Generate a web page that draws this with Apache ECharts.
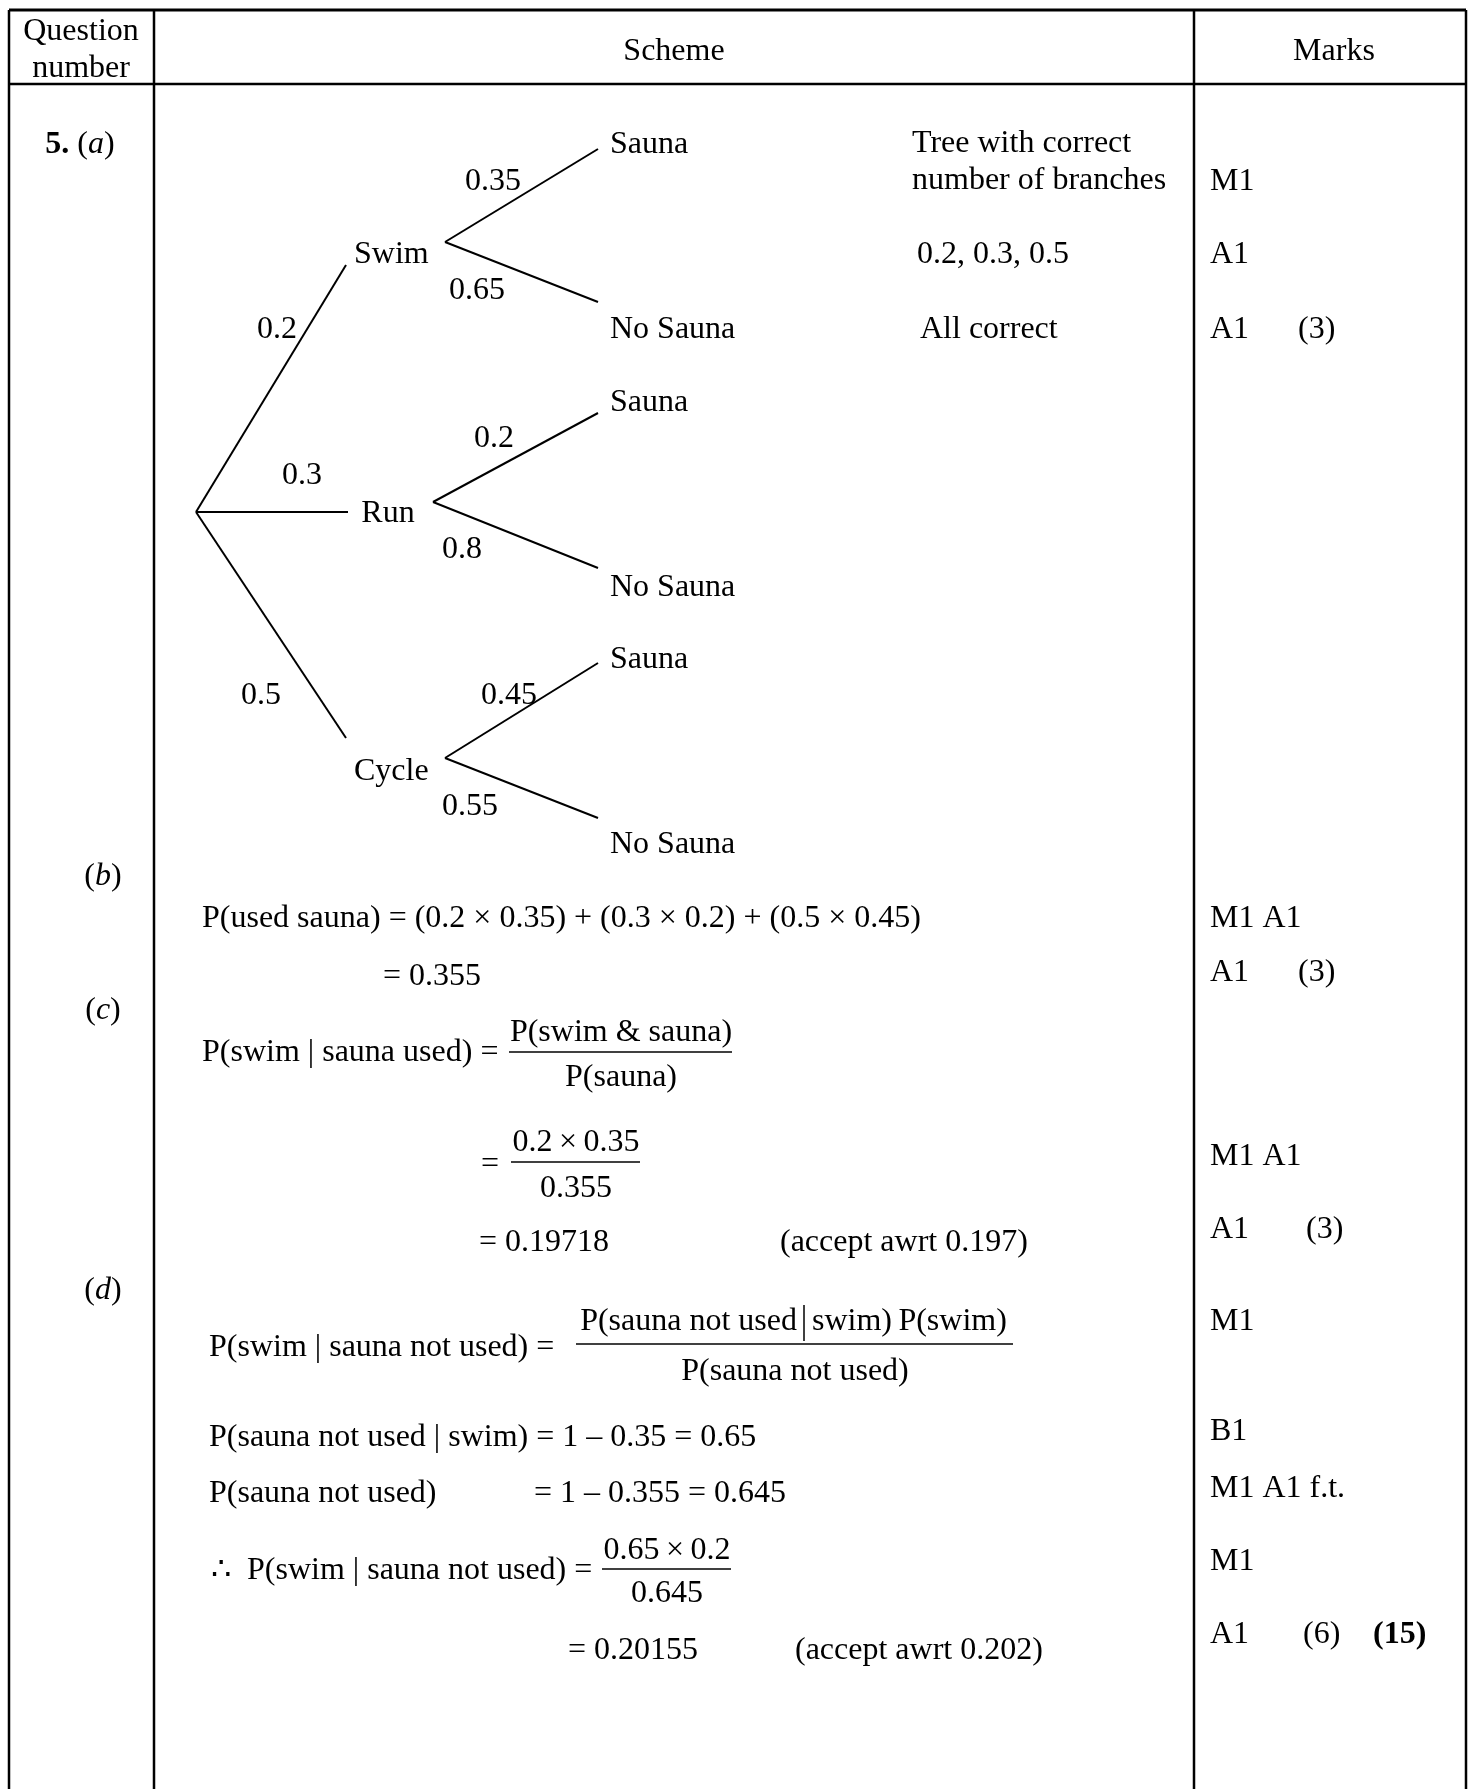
<!DOCTYPE html>
<html>
<head>
<meta charset="utf-8">
<script src="https://cdn.jsdelivr.net/npm/echarts@6/dist/echarts.min.js"></script>
<style>
html,body{margin:0;padding:0;background:#fff;}
#chart{width:1469px;height:1789px;}
</style>
</head>
<body>
<div id="chart"></div>
<script>
// ---------------- DATA ----------------
const headers = ['Question\nnumber', 'Scheme', 'Marks'];
const questionLabels = ['{b|5.} ({i|a})', '({i|b})', '({i|c})', '({i|d})'];
const activities = ['Swim', 'Run', 'Cycle'];
const activityProbs = ['0.2', '0.3', '0.5'];
const saunaProbs = [['0.35', '0.65'], ['0.2', '0.8'], ['0.45', '0.55']];
const outcomes = ['Sauna', 'No Sauna'];
const treeNotes = ['Tree with correct\nnumber of branches', '0.2, 0.3, 0.5', 'All correct'];
const treeMarks = ['M1', 'A1', 'A1', '(3)'];
const workingB = ['P(used sauna) = (0.2 × 0.35) + (0.3 × 0.2) + (0.5 × 0.45)', '= 0.355'];
const marksB = ['M1 A1', 'A1', '(3)'];
const workingC = ['P(swim | sauna used) =', 'P(swim & sauna)', 'P(sauna)', '=', '0.2\u2009×\u20090.35', '0.355', '= 0.19718', '(accept awrt 0.197)'];
const marksC = ['M1 A1', 'A1', '(3)'];
const workingD = ['P(swim | sauna not used) =', 'P(sauna not used', 'swim)\u2009P(swim)', 'P(sauna not used)',
  'P(sauna not used | swim) = 1 – 0.35 = 0.65', 'P(sauna not used)', '= 1 – 0.355 = 0.645',
  '∴  P(swim | sauna not used) =', '0.65\u2009×\u20090.2', '0.645', '= 0.20155', '(accept awrt 0.202)'];
const marksD = ['M1', 'B1', 'M1 A1 f.t.', 'M1', 'A1', '(6)', '{b|(15)}'];

// ---------------- LAYOUT ----------------
const W = 1469, H = 1789;
const FONT = 'Liberation Serif, Times New Roman, serif';
const TEXT_DY = 3.5;
const segs = [];   // [x1,y1,x2,y2,width]
const texts = [];  // {t,x,y,a}
function seg(x1, y1, x2, y2, w) { segs.push([x1, y1, x2, y2, w]); }
function txt(t, x, y, a) { texts.push({ t: t, x: x, y: y + TEXT_DY, a: a || 'left' }); }

// table frame
const colL = 9, col1 = 154, col2 = 1194, colR = 1466, topY = 10, headY = 84;
seg(colL, topY, colR, topY, 3);
seg(colL, headY, colR, headY, 2.5);
[colL, col1, col2, colR].forEach(x => seg(x, topY, x, H, 2.5));

// header
txt(headers[0], 81, 47, 'center');
txt(headers[1], 674, 48, 'center');
txt(headers[2], 1334, 48, 'center');

// question column
txt(questionLabels[0], 80, 141, 'center');
txt(questionLabels[1], 103, 873, 'center');
txt(questionLabels[2], 103, 1007, 'center');
txt(questionLabels[3], 103, 1287, 'center');

// tree diagram
const root = [196, 512];
const l1End = [[346, 265], [348, 512], [346, 738]];
const l1Text = [[354, 251, 'left'], [388, 510, 'center'], [354, 768, 'left']];
const joins = [[445, 242], [433, 502], [445, 758]];
const leafEnds = [[[598, 149], [598, 302]], [[598, 413], [598, 568]], [[598, 663], [598, 818]]];
const leafTextY = [[141, 326], [399, 584], [656, 841]];
const l1ProbPos = [[277, 326], [302, 472], [261, 692]];
const l2ProbPos = [[[493, 178], [477, 287]], [[494, 435], [462, 546]], [[509, 692], [470, 803]]];
activities.forEach((name, i) => {
  seg(root[0], root[1], l1End[i][0], l1End[i][1], 2);
  txt(name, l1Text[i][0], l1Text[i][1], l1Text[i][2]);
  txt(activityProbs[i], l1ProbPos[i][0], l1ProbPos[i][1], 'center');
  outcomes.forEach((o, j) => {
    seg(joins[i][0], joins[i][1], leafEnds[i][j][0], leafEnds[i][j][1], 2);
    txt(o, 610, leafTextY[i][j], 'left');
    txt(saunaProbs[i][j], l2ProbPos[i][j][0], l2ProbPos[i][j][1], 'center');
  });
});
txt(treeNotes[0], 912, 159, 'left');
txt(treeNotes[1], 917, 251, 'left');
txt(treeNotes[2], 920, 326, 'left');
const MX = 1210;
txt(treeMarks[0], MX, 178);
txt(treeMarks[1], MX, 251);
txt(treeMarks[2], MX, 326);
txt(treeMarks[3], 1298, 326);

// part (b)
txt(workingB[0], 202, 915);
txt(workingB[1], 383, 973);
txt(marksB[0], MX, 915);
txt(marksB[1], MX, 969);
txt(marksB[2], 1298, 969);

// part (c)
txt(workingC[0], 202, 1049);
txt(workingC[1], 621, 1029, 'center');
seg(509, 1052, 732, 1052, 1.5);
txt(workingC[2], 621, 1074, 'center');
txt(workingC[3], 490, 1161, 'center');
txt(workingC[4], 576, 1139, 'center');
seg(511, 1162, 640, 1162, 1.5);
txt(workingC[5], 576, 1185, 'center');
txt(workingC[6], 479, 1239);
txt(workingC[7], 780, 1239);
txt(marksC[0], MX, 1153);
txt(marksC[1], MX, 1226);
txt(marksC[2], 1306, 1226);

// part (d)
txt(workingD[0], 209, 1344);
txt(workingD[1], 797, 1318, 'right');
seg(804, 1305, 804, 1341, 1.5);
txt(workingD[2], 812, 1318, 'left');
seg(576, 1344, 1013, 1344, 1.5);
txt(workingD[3], 795, 1368, 'center');
txt(workingD[4], 209, 1434);
txt(workingD[5], 209, 1490);
txt(workingD[6], 534, 1490);
txt(workingD[7], 211, 1567);
txt(workingD[8], 667, 1547, 'center');
seg(602, 1569, 731, 1569, 1.5);
txt(workingD[9], 667, 1590, 'center');
txt(workingD[10], 568, 1647);
txt(workingD[11], 795, 1647);
txt(marksD[0], MX, 1318);
txt(marksD[1], MX, 1428);
txt(marksD[2], MX, 1485);
txt(marksD[3], MX, 1558);
txt(marksD[4], MX, 1631);
txt(marksD[5], 1303, 1631);
txt(marksD[6], 1373, 1631);

// ---------------- CHART ----------------
const rich = {
  b: { fontFamily: FONT, fontSize: 32, fontWeight: 'bold', fill: '#000' },
  i: { fontFamily: FONT, fontSize: 32, fontStyle: 'italic', fill: '#000' }
};
const chart = echarts.init(document.getElementById('chart'), null, { renderer: 'canvas' });
chart.setOption({
  animation: false,
  backgroundColor: '#fff',
  grid: { left: 0, right: 0, top: 0, bottom: 0 },
  xAxis: { type: 'value', min: 0, max: W, show: false },
  yAxis: { type: 'value', min: 0, max: H, inverse: true, show: false },
  series: [
    {
      type: 'custom',
      clip: false,
      silent: true,
      data: segs.map(s => s.slice(0, 4)),
      renderItem: function (params, api) {
        const s = segs[params.dataIndex];
        const p1 = api.coord([s[0], s[1]]);
        const p2 = api.coord([s[2], s[3]]);
        return {
          type: 'line',
          shape: { x1: p1[0], y1: p1[1], x2: p2[0], y2: p2[1] },
          style: { stroke: '#000', lineWidth: s[4], lineCap: 'butt' }
        };
      }
    },
    {
      type: 'custom',
      clip: false,
      silent: true,
      data: texts.map(d => [d.x, d.y]),
      renderItem: function (params, api) {
        const d = texts[params.dataIndex];
        const p = api.coord([d.x, d.y]);
        return {
          type: 'text',
          x: p[0],
          y: p[1],
          style: {
            text: d.t,
            fill: '#000',
            fontFamily: FONT,
            fontSize: 32,
            lineHeight: 37,
            align: d.a,
            verticalAlign: 'middle',
            rich: rich
          }
        };
      }
    }
  ]
});
</script>
</body>
</html>
